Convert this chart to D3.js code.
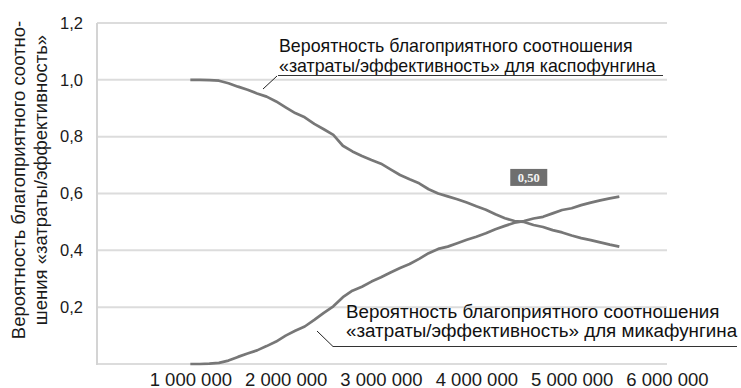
<!DOCTYPE html>
<html>
<head>
<meta charset="utf-8">
<script src="https://cdn.jsdelivr.net/npm/d3@7"></script>
<style>
  html, body { margin: 0; padding: 0; background: #fff; }
  svg { display: block; }
  text { font-family: "Liberation Sans", Arial, Helvetica, sans-serif; fill: #1a1a1a; }
</style>
</head>
<body>
<svg id="chart" width="741" height="388"></svg>
<script>
// Threshold willingness-to-pay, in roubles
const thresholds = [1.0e6, 1.1e6, 1.2e6, 1.3e6, 1.4e6, 1.5e6, 1.6e6, 1.7e6, 1.8e6, 1.9e6,
  2.0e6, 2.1e6, 2.2e6, 2.3e6, 2.4e6, 2.5e6, 2.6e6, 2.7e6, 2.8e6, 2.9e6,
  3.0e6, 3.1e6, 3.2e6, 3.3e6, 3.4e6, 3.5e6, 3.6e6, 3.7e6, 3.8e6, 3.9e6,
  4.0e6, 4.1e6, 4.2e6, 4.3e6, 4.4e6, 4.5e6, 4.6e6, 4.7e6, 4.8e6, 4.9e6,
  5.0e6, 5.1e6, 5.2e6, 5.3e6, 5.4e6, 5.5e6];

// Probability that caspofungin is cost-effective
const caspofungin = [1.000, 1.000, 0.999, 0.997, 0.988, 0.976, 0.965, 0.952, 0.941, 0.924,
  0.903, 0.883, 0.868, 0.845, 0.826, 0.806, 0.768, 0.748, 0.732, 0.718,
  0.705, 0.685, 0.665, 0.650, 0.636, 0.615, 0.600, 0.590, 0.580, 0.568,
  0.555, 0.543, 0.527, 0.513, 0.503, 0.500, 0.489, 0.482, 0.471, 0.463,
  0.452, 0.443, 0.436, 0.428, 0.420, 0.413];

// Probability that micafungin is cost-effective
const micafungin = [0.000, 0.000, 0.001, 0.004, 0.012, 0.025, 0.037, 0.048, 0.063, 0.079,
  0.100, 0.117, 0.132, 0.155, 0.180, 0.203, 0.235, 0.258, 0.272, 0.290,
  0.305, 0.322, 0.338, 0.352, 0.370, 0.390, 0.405, 0.413, 0.425, 0.437,
  0.448, 0.460, 0.474, 0.486, 0.497, 0.503, 0.512, 0.518, 0.530, 0.542,
  0.548, 0.559, 0.568, 0.576, 0.583, 0.589];

const xTicks = [1e6, 2e6, 3e6, 4e6, 5e6, 6e6];
const yTicks = [0.2, 0.4, 0.6, 0.8, 1.0, 1.2];
const yGrid = [0, 0.2, 0.4, 0.6, 0.8, 1.0, 1.2];

// Crossing point of the two curves and its label
const crossX = 4.55e6;
const crossValue = 0.50;

const yTitle = ["Вероятность благоприятного соотно-", "шения «затраты/эффективность»"];
const caspoLabel = ["Вероятность благоприятного соотношения", "«затраты/эффективность» для каспофунгина"];
const micaLabel = ["Вероятность благоприятного соотношения", "«затраты/эффективность» для микафунгина"];

const svg = d3.select("#chart");
const plot = { left: 97, right: 667, top: 23, bottom: 364 };

const x = d3.scaleLinear().domain([0, 6e6]).range([95, 667]);
const y = d3.scaleLinear().domain([0, 1.2]).range([plot.bottom, plot.top]);

const fmtNum = d => d3.format(",")(d).replace(/,/g, "\u00a0");
const fmtDec = d => d3.format(".1f")(d).replace(".", ",");

// Horizontal grid lines
svg.append("g")
  .selectAll("line")
  .data(yGrid)
  .join("line")
  .attr("x1", plot.left).attr("x2", plot.right)
  .attr("y1", d => y(d)).attr("y2", d => y(d))
  .attr("stroke", "#dcdcdc").attr("stroke-width", 2);

// Vertical axis line
svg.append("line")
  .attr("x1", plot.left).attr("x2", plot.left)
  .attr("y1", plot.top).attr("y2", plot.bottom + 1)
  .attr("stroke", "#d4d4d4").attr("stroke-width", 2);

// Y axis tick labels
const yAxis = d3.axisLeft(y).tickValues(yTicks).tickFormat(fmtDec).tickSize(0).tickPadding(14);
const gy = svg.append("g").attr("transform", `translate(${plot.left},0)`).call(yAxis);
gy.select(".domain").remove();
gy.selectAll("text")
  .style("font-family", "\"Liberation Sans\", Arial, sans-serif")
  .style("font-size", "16.5px").attr("fill", "#1a1a1a");

// X axis tick labels
const xAxis = d3.axisBottom(x).tickValues(xTicks).tickFormat(fmtNum).tickSize(0).tickPadding(0);
const gx = svg.append("g").attr("transform", `translate(0,${plot.bottom})`).call(xAxis);
gx.select(".domain").remove();
gx.selectAll("text")
  .attr("dy", null).attr("y", 21.5)
  .style("font-family", "\"Liberation Sans\", Arial, sans-serif")
  .style("font-size", "18.5px").attr("fill", "#1a1a1a");

// Y axis title, two lines rotated
const yt = svg.append("text")
  .attr("transform", "translate(0,180) rotate(-90)")
  .attr("text-anchor", "middle")
  .style("font-size", "18.5px");
yt.selectAll("tspan").data(yTitle).join("tspan")
  .attr("x", 0).attr("y", (d, i) => 25 + i * 22)
  .text(d => d);

// Curves
const line = d3.line().x(d => x(d[0])).y(d => y(d[1]));
[caspofungin, micafungin].forEach(series => {
  svg.append("path")
    .datum(d3.zip(thresholds, series))
    .attr("fill", "none")
    .attr("stroke", "#777777")
    .attr("stroke-width", 2.7)
    .attr("stroke-linejoin", "round")
    .attr("d", line);
});

// Value label at the crossing point
const lx = x(crossX), ly = y(crossValue) - 44;
svg.append("rect")
  .attr("x", lx - 18.5).attr("y", ly - 9)
  .attr("width", 37).attr("height", 17)
  .attr("fill", "#6f6f6f");
svg.append("text")
  .attr("x", lx).attr("y", ly + 4.5)
  .attr("text-anchor", "middle")
  .style("font-family", "\"Liberation Serif\", \"Times New Roman\", serif")
  .style("font-size", "12.5px").style("font-weight", "bold")
  .style("fill", "#f4f4f4")
  .text(d3.format(".2f")(crossValue).replace(".", ","));

// Callout annotations: one text element per line, an underline and a leader
function callout(lines, tx, baselines, fs, under, leader) {
  const g = svg.append("g").style("font-size", fs + "px");
  g.selectAll("text").data(lines).join("text")
    .attr("x", tx).attr("y", (d, i) => baselines[i])
    .style("fill", "#111")
    .text(d => d);
  svg.append("line")
    .attr("x1", under[0]).attr("x2", under[1]).attr("y1", under[2]).attr("y2", under[2])
    .attr("stroke", "#333").attr("stroke-width", 1.2);
  svg.append("line")
    .attr("x1", leader[0]).attr("y1", leader[1]).attr("x2", leader[2]).attr("y2", leader[3])
    .attr("stroke", "#222").attr("stroke-width", 1);
}
callout(caspoLabel, 279, [52, 72], 17.8, [278, 663, 75.5], [277, 76, 263, 89]);
callout(micaLabel, 346, [318, 337], 18.8, [333, 737, 346.5], [317, 331, 333, 346.5]);
</script>
</body>
</html>
